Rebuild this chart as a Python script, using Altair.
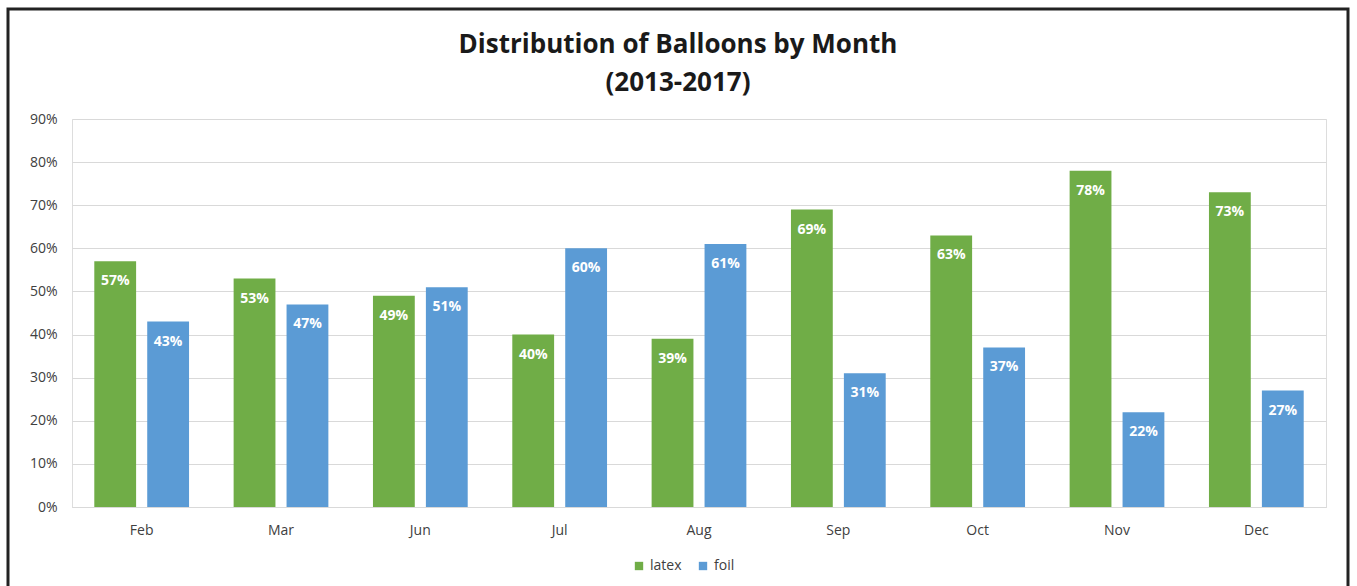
import altair as alt
import pandas as pd

months = ["Feb", "Mar", "Jun", "Jul", "Aug", "Sep", "Oct", "Nov", "Dec"]
latex = [57, 53, 49, 40, 39, 69, 63, 78, 73]
foil = [43, 47, 51, 60, 61, 31, 37, 22, 27]
series = ["latex", "foil"]
colors = ["#70AD47", "#5B9BD5"]

rows = []
for m, a, b in zip(months, latex, foil):
    rows.append({"month": m, "type": "latex", "value": a / 100})
    rows.append({"month": m, "type": "foil", "value": b / 100})
df = pd.DataFrame(rows)

FONT = "Open Sans"

x = alt.X("month:N", sort=months, title=None,
          scale=alt.Scale(paddingInner=0.32, paddingOuter=0.16),
          axis=alt.Axis(labelAngle=0, ticks=False, domain=True, domainColor="#d9d9d9",
                        labelPadding=16, labelFontSize=14, labelColor="#404040",
                        labelFont=FONT))
xo = alt.XOffset("type:N", sort=series,
                 scale=alt.Scale(paddingInner=0.21, paddingOuter=0))
y = alt.Y("value:Q", title=None,
          scale=alt.Scale(domain=[0, 0.9]),
          axis=alt.Axis(format=".0%", values=[i / 10 for i in range(10)],
                        ticks=False, domain=False, gridColor="#d9d9d9",
                        labelPadding=15, labelFontSize=14, labelColor="#404040",
                        labelFont=FONT))

bars = alt.Chart(df).mark_bar().encode(
    x=x, xOffset=xo, y=y,
    color=alt.Color("type:N", sort=series,
                    scale=alt.Scale(domain=series, range=colors),
                    legend=alt.Legend(title=None, orient="none", direction="horizontal",
                                      legendX=560, legendY=440, symbolType="square",
                                      symbolSize=70, labelFontSize=14, labelFont=FONT,
                                      labelColor="#404040", columnPadding=14,
                                      labelOffset=4, symbolStrokeWidth=0)),
)

labels = alt.Chart(df).mark_text(
    color="white", fontWeight="bold", fontSize=14, font=FONT,
    baseline="middle", dy=20
).encode(
    x=alt.X("month:N", sort=months), xOffset=alt.XOffset("type:N", sort=series),
    y="value:Q",
    text=alt.Text("value:Q", format=".0%"),
)

frame = alt.Chart(pd.DataFrame({"a": [0]})).mark_rect(
    fill=None, stroke="#222222", strokeWidth=3, clip=False
).encode(
    x=alt.value(-64), x2=alt.value(1276), y=alt.value(-110), y2=alt.value(480)
)

chart = alt.layer(bars, labels, frame).properties(
    width=1254, height=388,
    padding={"left": 72, "top": 119, "right": 31, "bottom": 79},
    autosize=alt.AutoSizeParams(type="none"),
    title=alt.Title(["Distribution of Balloons by Month", "(2013-2017)"],
                    fontSize=26, font=FONT, fontWeight="bold", color="#1a1a1a",
                    anchor="middle", frame="group", dx=-21, offset=-88, lineHeight=38),
).configure_view(stroke=None).configure(background="white")

chart.save("out.html", embed_options={"renderer": "svg", "actions": False})
